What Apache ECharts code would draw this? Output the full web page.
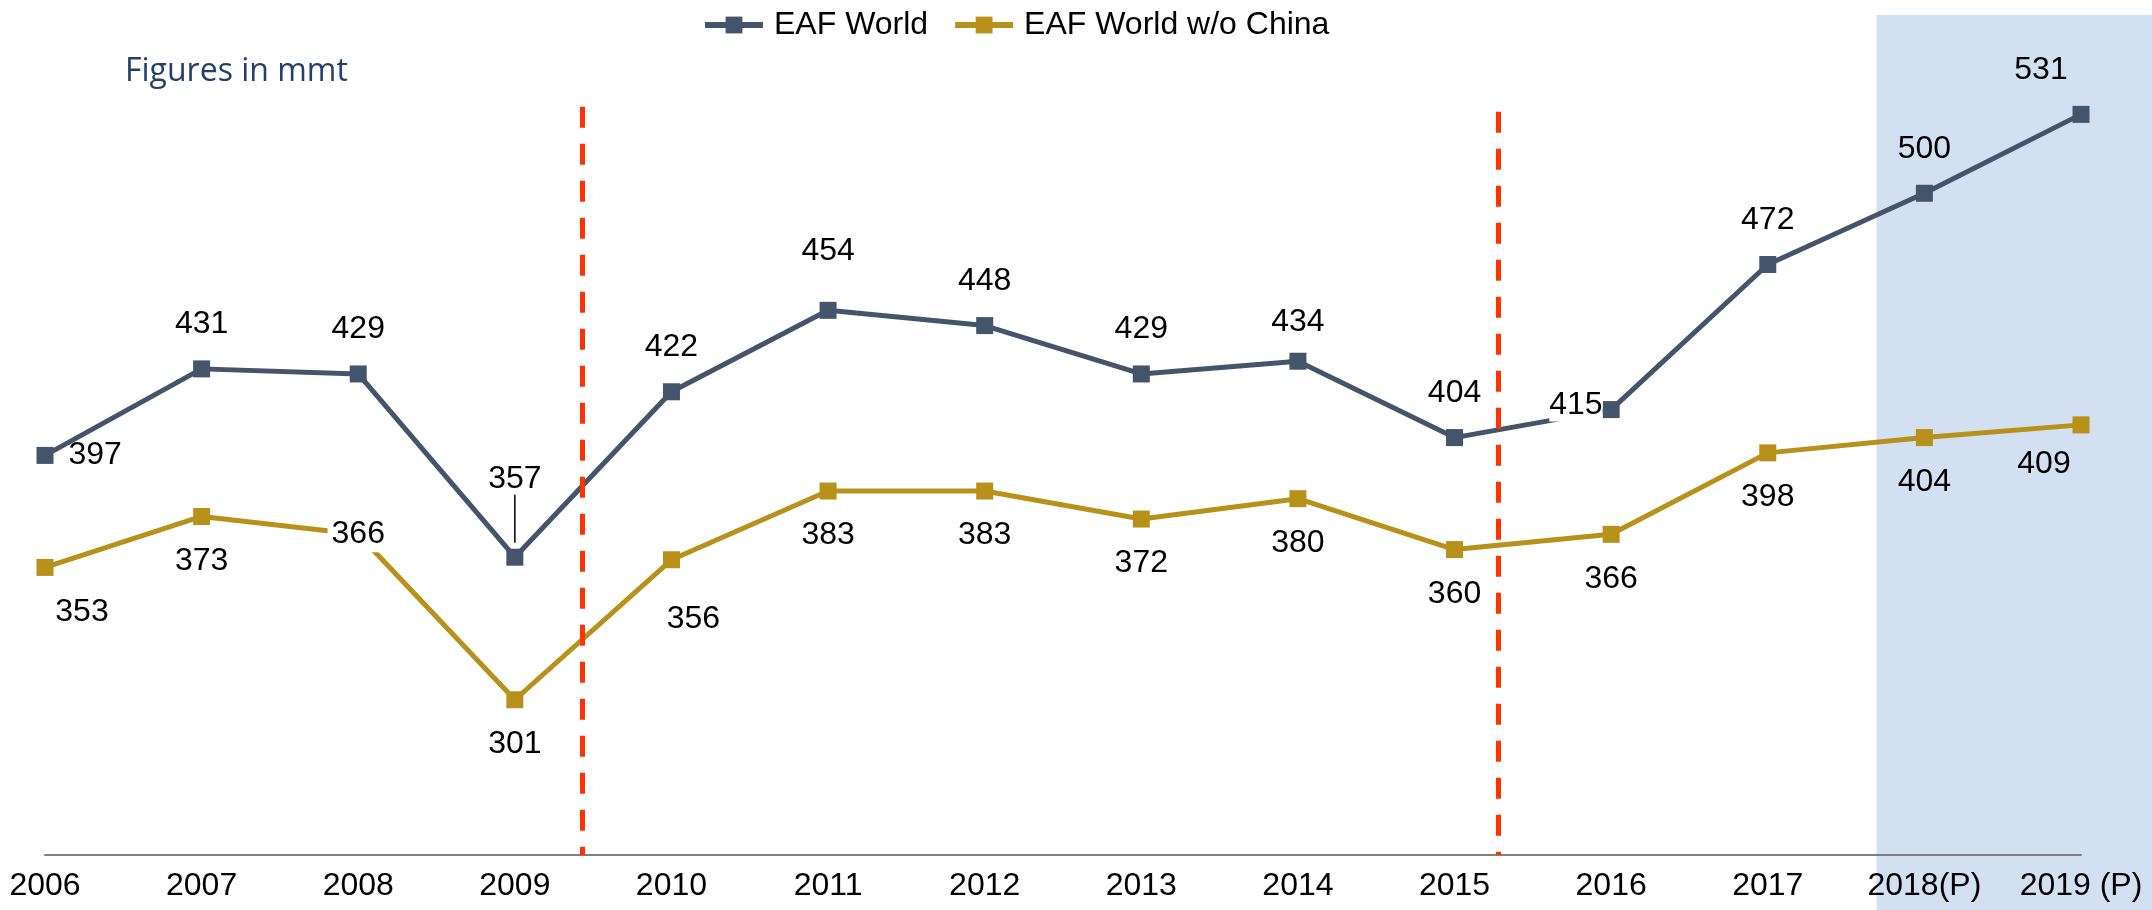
<!DOCTYPE html>
<html>
<head>
<meta charset="utf-8">
<title>EAF World</title>
<script src="https://cdn.jsdelivr.net/npm/echarts@6/dist/echarts.min.js"></script>
<style>
  html, body { margin: 0; padding: 0; background: #fff; }
  #chart { width: 2152px; height: 910px; }
</style>
</head>
<body>
<div id="chart"></div>
<script>
// data
var years = ['2006', '2007', '2008', '2009', '2010', '2011', '2012', '2013', '2014', '2015', '2016', '2017', '2018(P)', '2019 (P)'];
var eafWorld = [397, 431, 429, 357, 422, 454, 448, 429, 434, 404, 415, 472, 500, 531];
var eafNoChina = [353, 373, 366, 301, 356, 383, 383, 372, 380, 360, 366, 398, 404, 409];
// where the dashed dividers and the forecast band sit, in category steps from 2006
var dividerAt = [3.43, 9.28];
var forecastFrom = 11.7;

var font = '"Liberation Sans", Arial, sans-serif';
var slate = '#44546A';
var gold = '#B8911B';

// per point label tweaks (index -> options)
var worldTweaks = {
  0: { label: { position: 'right', distance: 15 } },
  // 357 sits on a thin leader line
  3: { label: {
    distance: 6,
    formatter: '{v|{c}}\n{l|}',
    rich: {
      v: { fontFamily: font, fontSize: 32, color: '#000', lineHeight: 32 },
      l: { width: 1.5, height: 48, backgroundColor: '#000' }
    }
  } },
  5: { label: { offset: [0, -15] } },
  8: { label: { offset: [0, 5] } },
  10: { label: { position: 'left', distance: 0, offset: [0, -4], backgroundColor: '#fff' } },
  13: { label: { offset: [-40, 0] } }
};
var chinaTweaks = {
  0: { label: { offset: [37, 0] } },
  2: { label: { position: 'inside', backgroundColor: '#fff', padding: [2, 4] } },
  4: { label: { offset: [22, 15] } },
  13: { label: { offset: [-37, -5] } }
};

function buildData(values, tweaks) {
  return values.map(function (v, i) {
    var item = { value: v };
    if (tweaks[i]) item.label = tweaks[i].label;
    return item;
  });
}

var chart = echarts.init(document.getElementById('chart'));

var option = {
  animation: false,
  title: {
    text: 'Figures in mmt',
    left: 120,
    top: 51,
    textStyle: { fontFamily: '"Open Sans", sans-serif', fontSize: 32, fontWeight: 'normal', color: '#243F6B' }
  },
  legend: {
    left: 697,
    top: 4,
    itemWidth: 58,
    itemHeight: 21,
    itemGap: 24,
    data: ['EAF World', 'EAF World w/o China'],
    lineStyle: { width: 6 },
    textStyle: { fontFamily: font, fontSize: 32, color: '#000', padding: [0, 0, 0, 6] }
  },
  grid: [
    { left: 45, right: 71, top: 66, bottom: 55 },
    { left: 45, right: 0, top: 15, bottom: 0 }
  ],
  xAxis: [
    {
      type: 'category',
      gridIndex: 0,
      data: years,
      boundaryGap: false,
      z: 3,
      axisTick: { show: false },
      axisLine: { lineStyle: { color: '#808080', width: 2 } },
      axisLabel: { interval: 0, hideOverlap: false, fontFamily: font, fontSize: 32, color: '#000', margin: 15 }
    },
    { type: 'value', gridIndex: 1, min: 0, max: 13.46, show: false },
    { type: 'value', gridIndex: 0, min: 0, max: 13, show: false }
  ],
  yAxis: [
    { type: 'value', gridIndex: 0, min: 240, max: 550, show: false },
    { type: 'value', gridIndex: 1, min: 0, max: 1, show: false }
  ],
  series: [
    {
      // forecast band
      type: 'line',
      xAxisIndex: 1,
      yAxisIndex: 1,
      data: [],
      z: 1,
      silent: true,
      markArea: {
        silent: true,
        itemStyle: { color: '#D3E0F1' },
        data: [[{ xAxis: forecastFrom }, { xAxis: 13.46 }]]
      }
    },
    {
      // dashed dividers
      type: 'line',
      xAxisIndex: 2,
      yAxisIndex: 0,
      data: [],
      z: 5,
      silent: true,
      markLine: {
        silent: true,
        symbol: 'none',
        label: { show: false },
        lineStyle: { color: '#FF3300', width: 5, type: [21, 16] },
        data: [
          [{ coord: [dividerAt[0], 534] }, { coord: [dividerAt[0], 240] }],
          [{ coord: [dividerAt[1], 532] }, { coord: [dividerAt[1], 240] }]
        ]
      }
    },
    {
      name: 'EAF World',
      type: 'line',
      data: buildData(eafWorld, worldTweaks),
      z: 4,
      symbol: 'rect',
      symbolSize: 17,
      lineStyle: { color: slate, width: 5 },
      itemStyle: { color: slate },
      label: {
        show: true,
        position: 'top',
        distance: 20,
        fontFamily: font,
        fontSize: 32,
        color: '#000'
      }
    },
    {
      name: 'EAF World w/o China',
      type: 'line',
      data: buildData(eafNoChina, chinaTweaks),
      z: 4,
      symbol: 'rect',
      symbolSize: 17,
      lineStyle: { color: gold, width: 5 },
      itemStyle: { color: gold },
      label: {
        show: true,
        position: 'bottom',
        distance: 20,
        fontFamily: font,
        fontSize: 32,
        color: '#000'
      }
    }
  ]
};

chart.setOption(option);
</script>
</body>
</html>
